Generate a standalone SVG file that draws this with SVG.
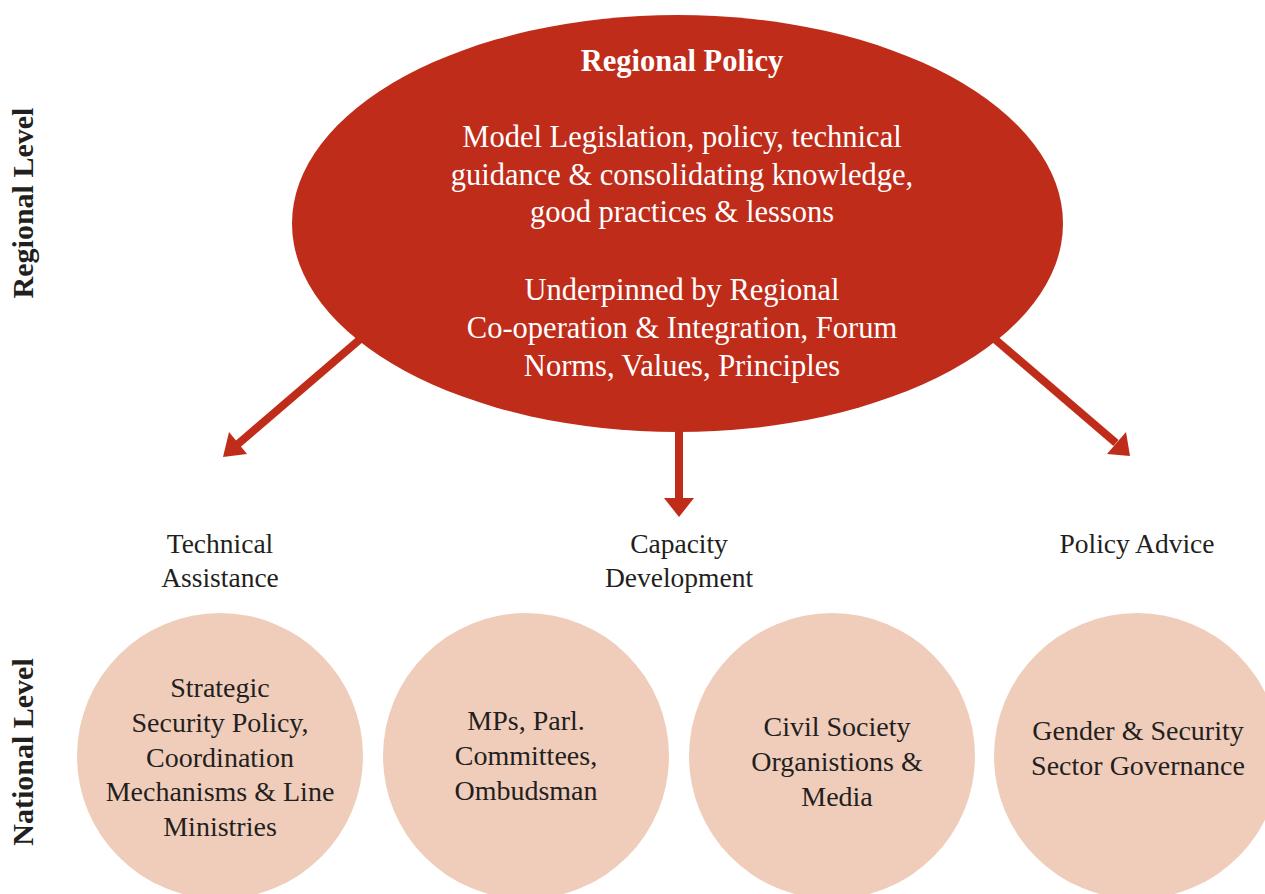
<svg xmlns="http://www.w3.org/2000/svg" width="1265" height="894" viewBox="0 0 1265 894">
<style>
.t{font-family:"Liberation Serif","Times New Roman",serif;text-anchor:middle}
.w{fill:#ffffff;font-size:30.5px}
.d{fill:#231f20;font-size:27.5px}
.c{fill:#231f20;font-size:28px}
.side{font-family:"Liberation Serif",serif;font-weight:bold;font-size:30px;fill:#231f20;text-anchor:middle}
.circ{fill:#f0cdbb}
.conn{stroke:#c02c1a;stroke-width:8;fill:none}
.head{fill:#c02c1a}
</style>
<rect width="1265" height="894" fill="#ffffff"/>
<g id="connectors">
<line class="conn" x1="365" y1="335" x2="238" y2="444"/>
<polygon class="head" points="223,457 229,432 247,454"/>
<line class="conn" x1="679" y1="420" x2="679" y2="500"/>
<polygon class="head" points="664,498 694,498 679,517"/>
<line class="conn" x1="990" y1="335" x2="1116" y2="443"/>
<polygon class="head" points="1130,456 1107,454 1126,432"/>
</g>
<g id="regional-policy">
<ellipse cx="677.5" cy="223.5" rx="385.5" ry="208.5" fill="#c02c1a"/>
<text class="t w" x="682" y="71" font-weight="bold" font-size="32px">Regional Policy</text>
<text class="t w" x="682" y="147">Model Legislation, policy, technical</text>
<text class="t w" x="682" y="185">guidance &amp; consolidating knowledge,</text>
<text class="t w" x="682" y="222">good practices &amp; lessons</text>
<text class="t w" x="682" y="300">Underpinned by Regional</text>
<text class="t w" x="682" y="338">Co-operation &amp; Integration, Forum</text>
<text class="t w" x="682" y="376">Norms, Values, Principles</text>
</g>
<g id="label-technical">
<text class="t d" x="220" y="553">Technical</text>
<text class="t d" x="220" y="587">Assistance</text>
</g>
<g id="label-capacity">
<text class="t d" x="679" y="553">Capacity</text>
<text class="t d" x="679" y="587">Development</text>
</g>
<g id="label-policy">
<text class="t d" x="1137" y="553">Policy Advice</text>
</g>
<g id="node-strategic">
<circle class="circ" cx="220" cy="756" r="143"/>
<text class="t c" x="220" y="697">Strategic</text>
<text class="t c" x="220" y="732">Security Policy,</text>
<text class="t c" x="220" y="767">Coordination</text>
<text class="t c" x="220" y="801">Mechanisms &amp; Line</text>
<text class="t c" x="220" y="836">Ministries</text>
</g>
<g id="node-mps">
<circle class="circ" cx="526" cy="756" r="143"/>
<text class="t c" x="526" y="730">MPs, Parl.</text>
<text class="t c" x="526" y="765">Committees,</text>
<text class="t c" x="526" y="800">Ombudsman</text>
</g>
<g id="node-civil">
<circle class="circ" cx="832" cy="756" r="143"/>
<text class="t c" x="837" y="736">Civil Society</text>
<text class="t c" x="837" y="771">Organistions &amp;</text>
<text class="t c" x="837" y="806">Media</text>
</g>
<g id="node-gender">
<circle class="circ" cx="1137" cy="756" r="143"/>
<text class="t c" x="1138" y="740">Gender &amp; Security</text>
<text class="t c" x="1138" y="775">Sector Governance</text>
</g>
<g id="side-labels">
<text class="side" transform="translate(33,203) rotate(-90)">Regional Level</text>
<text class="side" transform="translate(33,752) rotate(-90)">National Level</text>
</g>
</svg>
